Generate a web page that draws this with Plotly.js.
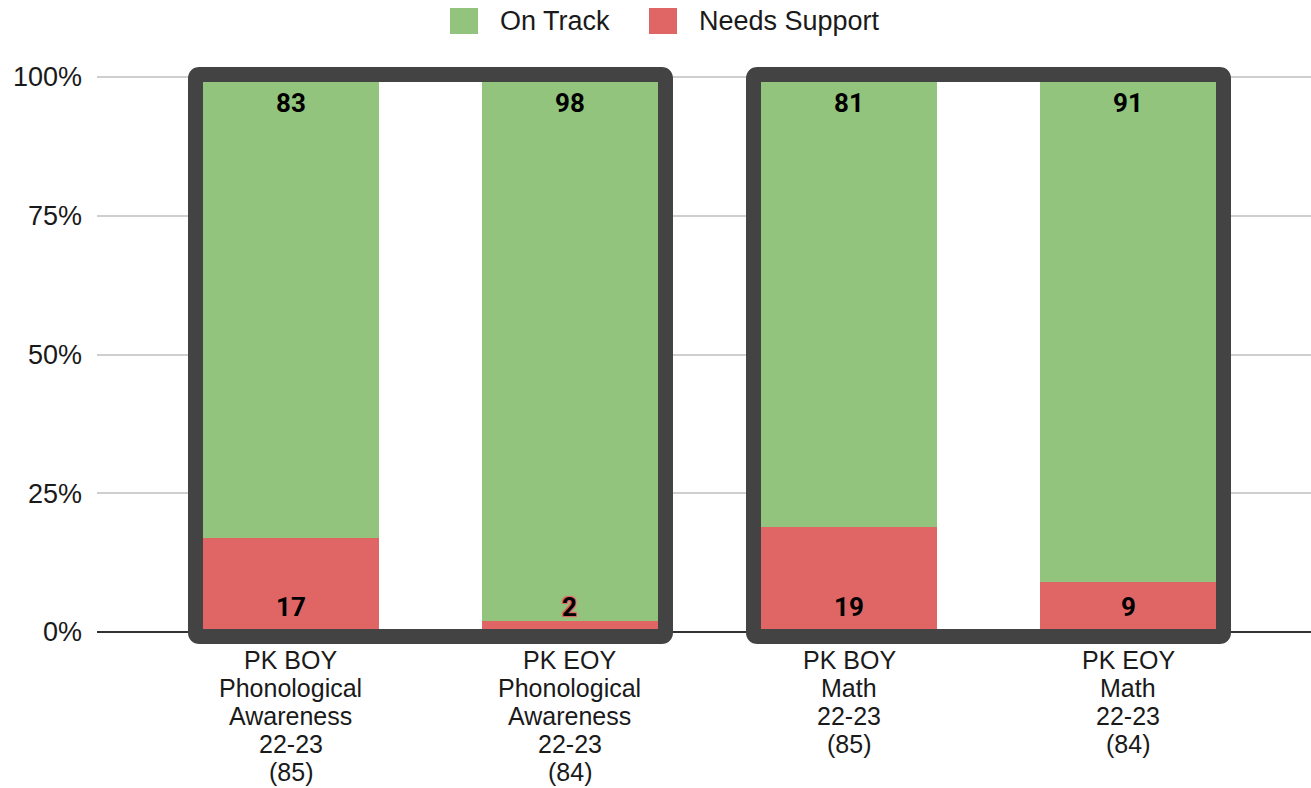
<!DOCTYPE html>
<html>
<head>
<meta charset="utf-8">
<script src="https://cdn.plot.ly/plotly-3.0.1.min.js"></script>
<style>html,body{margin:0;padding:0;background:#fff;}#chart{width:1311px;height:788px;}</style>
</head>
<body>
<div id="chart"></div>
<script>
// ---- data ----
const categories = [
  "PK BOY|Phonological|Awareness|22-23|(85)",
  "PK EOY|Phonological|Awareness|22-23|(84)",
  "PK BOY|Math|22-23|(85)",
  "PK EOY|Math|22-23|(84)"
];
const onTrack = [83, 98, 81, 91];
const needsSupport = [17, 2, 19, 9];
const seriesNames = ["On Track", "Needs Support"];
const yTickVals = [0, 25, 50, 75, 100];
const yTickText = ["0%", "25%", "50%", "75%", "100%"];
const boxGroups = [[0, 1], [2, 3]];

// ---- styles ----
const GREEN = "#93c47d", RED = "#e06666", BORDER = "#434343";
const TXT = "#1a1a1a";
const tickFont = {family: "Liberation Sans, Arial, sans-serif", size: 27, color: TXT};
const labelFont = {family: "Roboto, sans-serif", size: 26, color: "#000", weight: 700};
function halo(c) {
  return `1px 1px 0 ${c}, -1px -1px 0 ${c}, 1px -1px 0 ${c}, -1px 1px 0 ${c}, 0 0 3px ${c}`;
}

const traces = [
  {type: "bar", name: seriesNames[1], x: categories, y: needsSupport,
   marker: {color: RED, line: {width: 0}}, width: 0.63, hoverinfo: "none", showlegend: false},
  {type: "bar", name: seriesNames[0], x: categories, y: onTrack,
   marker: {color: GREEN, line: {width: 0}}, width: 0.63, hoverinfo: "none", showlegend: false}
];

const annotations = [];
// data labels
categories.forEach((c, i) => {
  annotations.push({x: c, y: needsSupport[i] + onTrack[i], xref: "x", yref: "y",
    text: String(onTrack[i]), showarrow: false, yanchor: "middle", yshift: -26,
    font: Object.assign({shadow: halo(GREEN)}, labelFont)});
  annotations.push({x: c, y: 0, xref: "x", yref: "y",
    text: String(needsSupport[i]), showarrow: false, yanchor: "middle", yshift: 25,
    font: Object.assign({shadow: halo(RED)}, labelFont)});
});
// category labels (one annotation per line for tight line spacing)
categories.forEach((c) => {
  c.split("|").forEach((line, k) => {
    annotations.push({x: c, y: 0, xref: "x", yref: "y", text: line, showarrow: false,
      yanchor: "middle", yshift: -(28 + 28 * k),
      font: {family: "Liberation Sans, Arial, sans-serif", size: 25, color: TXT}});
  });
});
// legend (manual, large swatches)
const plotL = 97, plotW = 1214, plotT = 60, plotH = 590;
const px = v => (v - plotL) / plotW;
const py = v => (plotT + plotH - v) / plotH;
const legendItems = [
  {name: seriesNames[0], color: GREEN, sx: 450, tx: 498},
  {name: seriesNames[1], color: RED, sx: 649, tx: 697}
];
const shapes = [];
legendItems.forEach(it => {
  shapes.push({type: "rect", xref: "paper", yref: "paper",
    x0: px(it.sx), x1: px(it.sx + 28), y0: py(34), y1: py(8),
    fillcolor: it.color, line: {width: 0}});
  annotations.push({xref: "paper", yref: "paper", x: px(it.tx), y: py(21),
    xanchor: "left", yanchor: "middle", showarrow: false, text: it.name,
    font: {family: "Liberation Sans, Arial, sans-serif", size: 27, color: TXT}});
});
// dark rounded frames around groups: white fill below bars, border above bars
function framePath(hw, top, bot, r) {
  return `M ${-hw + r},${top} L ${hw - r},${top} Q ${hw},${top} ${hw},${top - r} ` +
         `L ${hw},${bot + r} Q ${hw},${bot} ${hw - r},${bot} ` +
         `L ${-hw + r},${bot} Q ${-hw},${bot} ${-hw},${bot + r} ` +
         `L ${-hw},${top - r} Q ${-hw},${top} ${-hw + r},${top} Z`;
}
boxGroups.forEach(g => {
  const base = {type: "path", xref: "x", yref: "y", xsizemode: "pixel", ysizemode: "pixel",
    xanchor: (g[0] + g[g.length - 1]) / 2, yanchor: 50, path: framePath(235, 280, -282, 4)};
  shapes.push(Object.assign({}, base, {layer: "between", fillcolor: "#ffffff", line: {width: 0}}));
  shapes.push(Object.assign({}, base, {layer: "above", fillcolor: "rgba(0,0,0,0)",
    line: {color: BORDER, width: 15}}));
});

const layout = {
  width: 1311, height: 788,
  margin: {l: plotL, r: 0, t: plotT, b: 788 - plotT - plotH, pad: 0},
  paper_bgcolor: "#fff", plot_bgcolor: "#fff",
  barmode: "stack",
  showlegend: false,
  xaxis: {type: "category", range: [-0.6953, 3.6559], showticklabels: false,
    showgrid: false, zeroline: false, showline: false, ticks: "", fixedrange: true},
  yaxis: {range: [-3.24, 103.06], tickvals: yTickVals, ticktext: yTickText,
    tickfont: tickFont, showgrid: true, gridcolor: "#cfcfcf", gridwidth: 2,
    zeroline: true, zerolinecolor: "#333333", zerolinewidth: 2,
    showline: false, ticks: "", ticklabelstandoff: 14, fixedrange: true},
  shapes: shapes,
  annotations: annotations
};

Plotly.newPlot("chart", traces, layout, {displayModeBar: false, staticPlot: true});
</script>
</body>
</html>
